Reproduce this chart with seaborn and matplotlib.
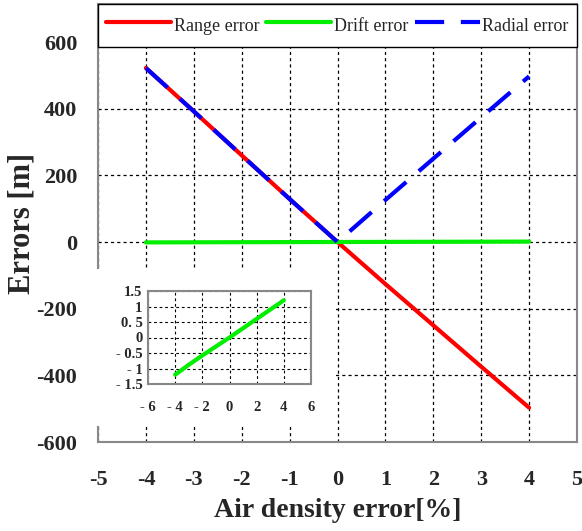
import numpy as np
import pandas as pd
import matplotlib
matplotlib.use('Agg')
import matplotlib.pyplot as plt
import seaborn as sns

# data
density_err = [-4, -3, -2, -1, 0, 1, 2, 3, 4]
range_err = [522, 392, 260, 129, 0, -126, -250, -374, -497]
drift_err = [-1.2, -0.88, -0.58, -0.29, 0.0, 0.3, 0.6, 0.9, 1.2]
radial_err = [abs(v) for v in range_err]

sns.set_style('white')
plt.rcParams['font.family'] = ['Liberation Serif', 'DejaVu Serif']
plt.rcParams['axes.unicode_minus'] = False

fig = plt.figure(figsize=(5.82, 5.31), dpi=100)
ax = fig.add_axes([98/582, 1-442/531, 479/582, 438/531])

df = pd.DataFrame({'x': density_err, 'range': range_err,
                   'drift': drift_err, 'radial': radial_err})

sns.lineplot(data=df, x='x', y='range', color='#ff0000', lw=3, ax=ax, label='Range error')
sns.lineplot(data=df, x='x', y='drift', color='#00ee00', lw=3, ax=ax, label='Drift error')
sns.lineplot(data=df, x='x', y='radial', color='#0000ff', lw=3, ax=ax, label='Radial error')
ax.lines[-1].set_dashes([7, 4])

ax.set_xlim(-5, 5)
ax.set_ylim(-600, 714)
ax.set_xticks(range(-5, 6))
ax.set_yticks(range(-600, 601, 200))
ax.tick_params(axis='x', pad=20, labelsize=16, length=0)
ax.tick_params(axis='y', pad=15, labelsize=16, length=0)
for t in ax.get_xticklabels() + ax.get_yticklabels():
    t.set_fontweight('bold')
ax.grid(True, color='black', ls=(0, (2.5, 2.5)), lw=0.9)
for s in ax.spines.values():
    s.set_color('#888888')
    s.set_linewidth(1.5)
ax.set_xlabel('Air density error[%]', fontsize=20, fontweight='bold', labelpad=6)
ax.set_ylabel('Errors [m]', fontsize=22, fontweight='bold', labelpad=-0.5)

leg = ax.legend(loc='upper left', bbox_to_anchor=(0, 1, 1, 0), mode='expand', ncol=3,
                borderaxespad=0, fontsize=13, handlelength=3.6, handletextpad=0.15,
                columnspacing=0.4, frameon=True, fancybox=False, borderpad=0.45,
                handleheight=1.9)
leg.get_frame().set_edgecolor('black')
leg.get_frame().set_linewidth(1.0)
leg.get_frame().set_alpha(1)

# white patch behind the inset
fig.patches.append(plt.Rectangle((92/582, 1-426/531), 241/582, 157/531,
                                 transform=fig.transFigure, facecolor='white',
                                 edgecolor='none', zorder=3))

ins = fig.add_axes([148/582, 1-384/531, 163/582, 93/531], zorder=5)
sns.lineplot(data=df, x='x', y='drift', color='#00ee00', lw=3, ax=ins, legend=False)
ins.set_xlim(-6, 6)
ins.set_ylim(-1.5, 1.5)
ins.set_xticks(range(-6, 7, 2))
ins.set_yticks([-1.5, -1, -0.5, 0, 0.5, 1, 1.5])
ins.set_yticklabels(['- 1.5', '- 1', '- 0.5', '0', '0. 5', '1', '1.5'])
ins.set_xticklabels(['- 6', '- 4', '- 2', '0', '2', '4', '6'])
ins.tick_params(axis='x', pad=12, labelsize=10.5, length=2, direction='in', color='#888888')
ins.tick_params(axis='y', pad=4, labelsize=10.5, length=0)
for t in ins.get_xticklabels() + ins.get_yticklabels():
    t.set_fontweight('bold')
ins.grid(True, color='black', ls=(0, (2.5, 2.5)), lw=0.8)
ins.set_xlabel('')
ins.set_ylabel('')
for s in ins.spines.values():
    s.set_color('#888888')
    s.set_linewidth(1.5)

fig.savefig('out.png', dpi=100)
